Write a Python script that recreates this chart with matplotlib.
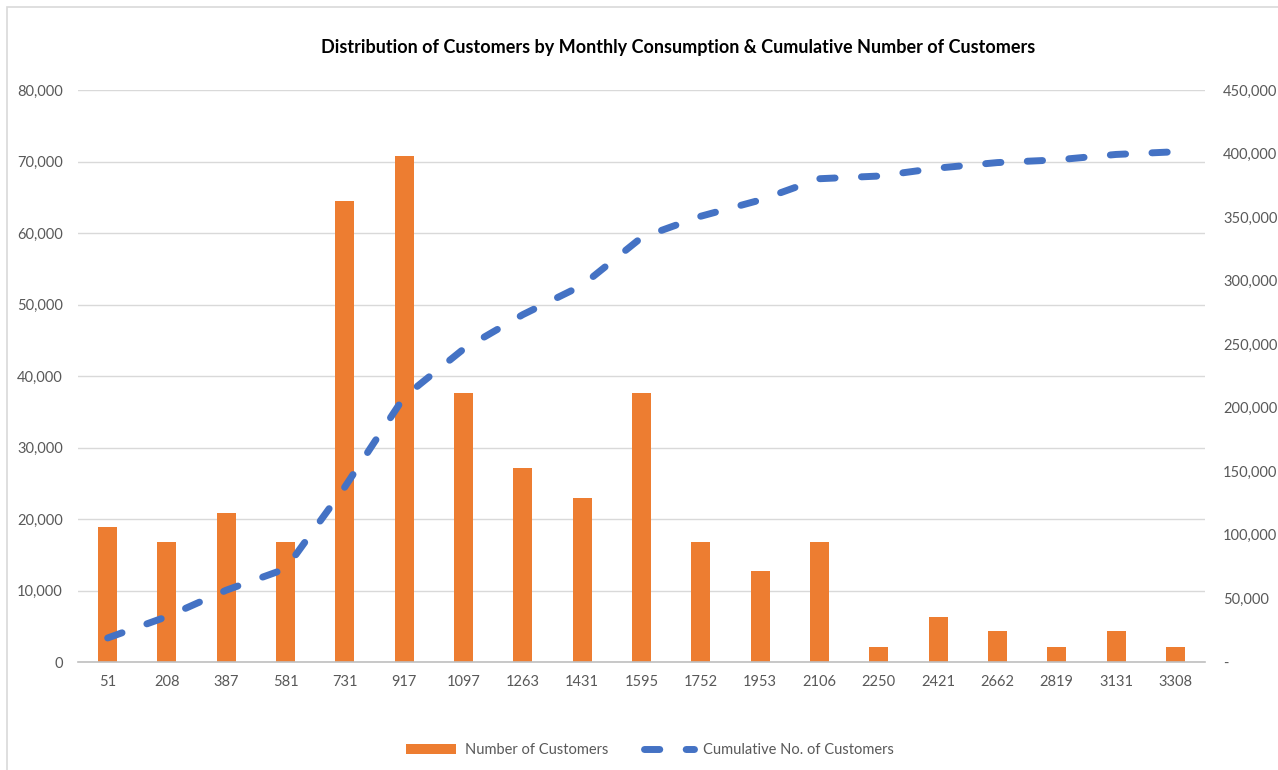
import matplotlib.pyplot as plt
from matplotlib.patches import Rectangle
from matplotlib.ticker import FuncFormatter

plt.rcParams['font.family'] = ['Lato', 'DejaVu Sans']

consumption = ['51', '208', '387', '581', '731', '917', '1097', '1263', '1431', '1595',
               '1752', '1953', '2106', '2250', '2421', '2662', '2819', '3131', '3308']
customers = [18900, 16800, 20800, 16800, 64500, 70800, 37600, 27100, 23000, 37600,
             16800, 12700, 16800, 2100, 6300, 4300, 2100, 4300, 2100]
cumulative = [18900, 35700, 56500, 73300, 137800, 208600, 246200, 273300, 296300, 333900,
              350700, 363400, 380200, 382300, 388600, 392900, 395000, 399300, 401400]

orange = '#ED7D31'
blue = '#4472C4'
grey_txt = '#595959'
grid_c = '#D9D9D9'

fig = plt.figure(figsize=(12.78, 7.70), dpi=100)
fig.patches.append(Rectangle((7 / 1278, -0.05), 1.1, 1 - 7 / 770 + 0.05,
                             transform=fig.transFigure, fill=False,
                             edgecolor=grid_c, linewidth=1.2))

ax = fig.add_axes([78 / 1278, 1 - 662 / 770, (1205 - 78) / 1278, (662 - 90) / 770])
x = range(len(consumption))
bars = ax.bar(x, customers, width=0.32, color=orange, zorder=2,
              label='Number of Customers')
ax.set_ylim(0, 80000)
ax.set_xlim(-0.5, len(consumption) - 0.5)
ax.set_yticks(range(0, 80001, 10000))
ax.yaxis.set_major_formatter(FuncFormatter(lambda v, p: f'{int(v):,}'))
ax.set_xticks(list(x))
ax.set_xticklabels(consumption)
ax.grid(axis='y', color=grid_c, linewidth=1, zorder=0)
for s in ['top', 'right', 'left']:
    ax.spines[s].set_visible(False)
ax.spines['bottom'].set_color('#BFBFBF')
ax.spines['bottom'].set_linewidth(1.2)
ax.tick_params(axis='both', length=0, labelsize=10.5, colors=grey_txt)
ax.tick_params(axis='y', pad=11)
ax.tick_params(axis='x', pad=9)

ax2 = ax.twinx()
line, = ax2.plot(x, cumulative, color=blue, linewidth=5, linestyle=(0, (2.2, 3.8)),
                 dash_capstyle='round', solid_capstyle='round', zorder=3,
                 label='Cumulative No. of Customers')
ax2.set_ylim(0, 450000)
ax2.set_yticks(range(0, 450001, 50000))
ax2.yaxis.set_major_formatter(FuncFormatter(lambda v, p: '-' if v == 0 else f'{int(v):,}'))
for s in ['top', 'right', 'left', 'bottom']:
    ax2.spines[s].set_visible(False)
ax2.tick_params(axis='y', length=0, labelsize=10.5, colors=grey_txt, pad=13)

fig.text(678 / 1278, 1 - 47 / 770, 'Distribution of Customers by Monthly Consumption & Cumulative Number of Customers',
         ha='center', va='center', fontsize=13, fontweight='bold', color='black')

fig.legend(handles=[bars, line], loc='center', bbox_to_anchor=(650 / 1278, 1 - 750 / 770),
           ncol=2, frameon=False, fontsize=10.5, labelcolor=grey_txt,
           handlelength=3.4, columnspacing=2.5, handletextpad=0.6)

fig.savefig('out.png', dpi=100)
